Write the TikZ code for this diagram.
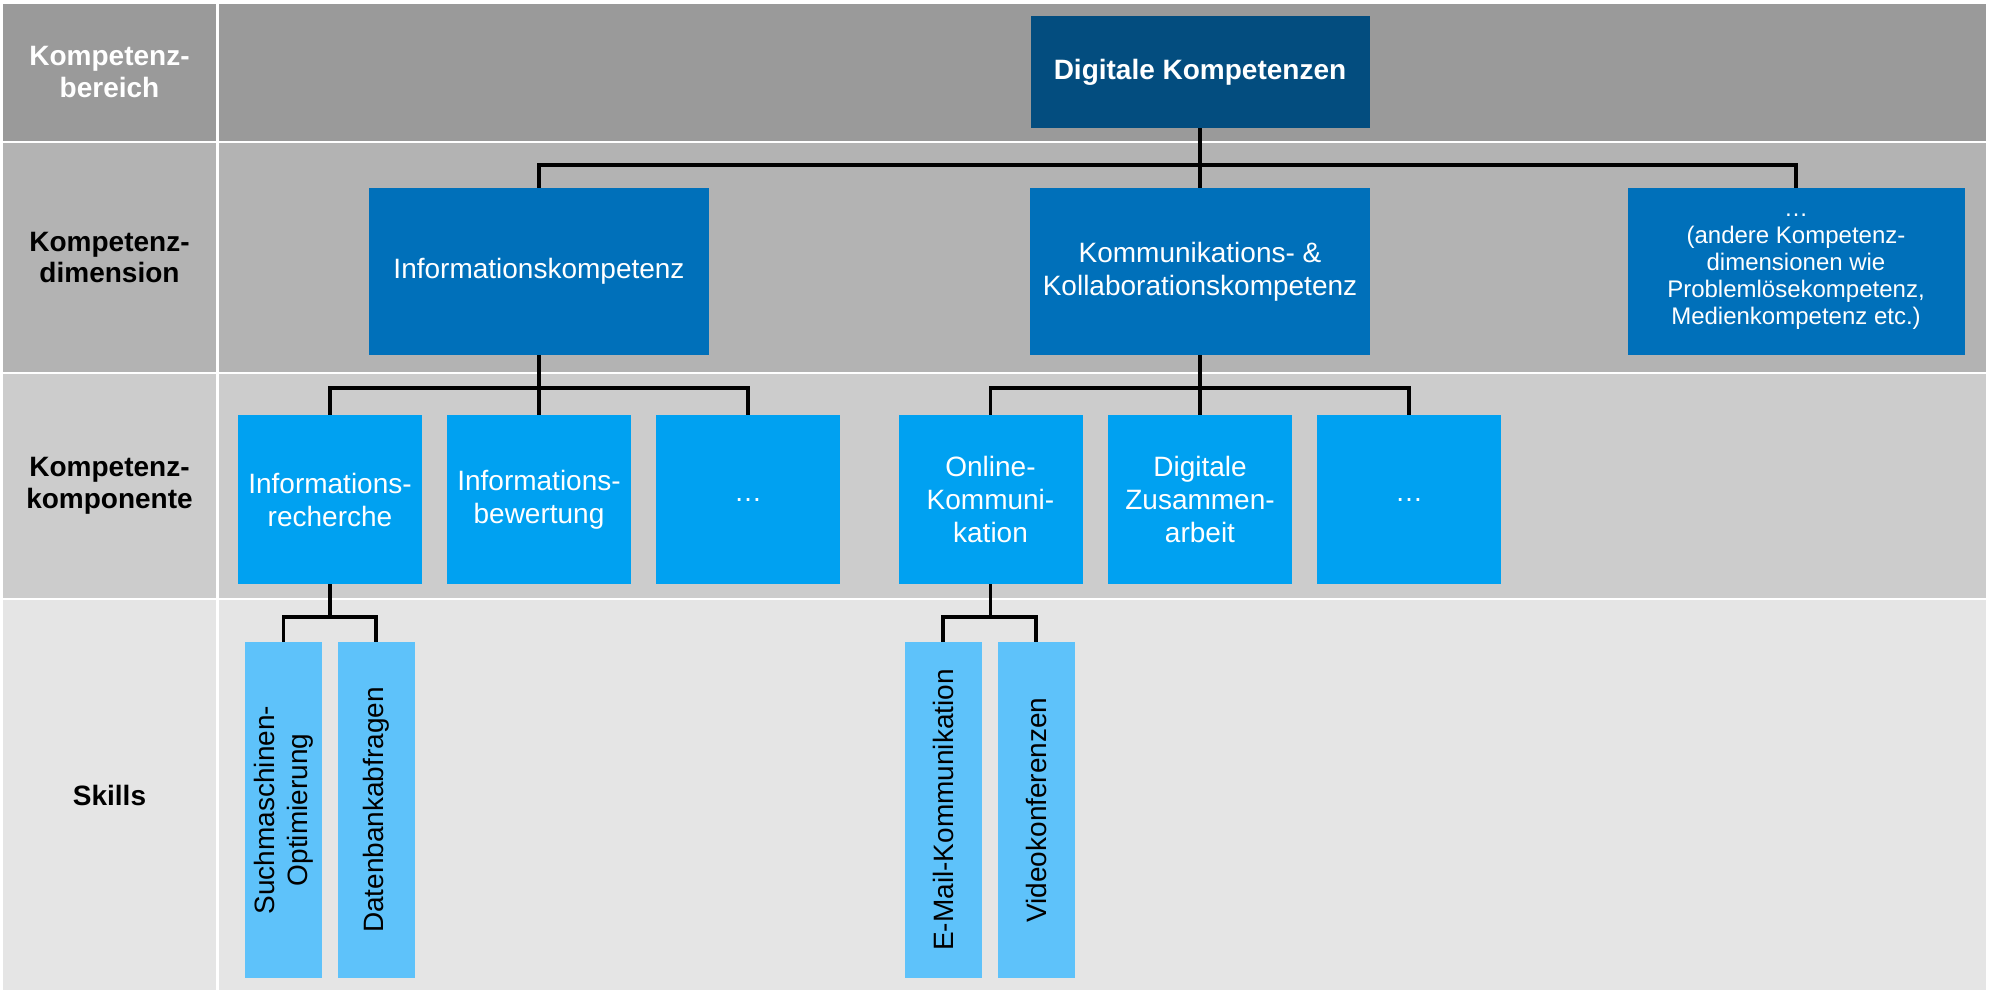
\documentclass[tikz,border=0pt]{standalone}
\usepackage{fontspec}
\setmainfont{Liberation Sans}
\usetikzlibrary{positioning}
\definecolor{rowA}{HTML}{9A9A9A}
\definecolor{rowB}{HTML}{B3B3B3}
\definecolor{rowC}{HTML}{CCCCCC}
\definecolor{rowD}{HTML}{E5E5E5}
\definecolor{rootblue}{HTML}{034D7F}
\definecolor{dimblue}{HTML}{0070BA}
\definecolor{compblue}{HTML}{00A1F1}
\definecolor{skillblue}{HTML}{5EC2FA}
\begin{document}
\begin{tikzpicture}[x=1pt,y=-1pt,font=\fontsize{28}{33}\selectfont,
    rowlabel/.style={align=center,font=\fontsize{28}{32}\selectfont\bfseries},
    box/.style={inner sep=0pt,align=center,text=white},
    rootbox/.style={box,fill=rootblue,minimum width=339,minimum height=112,font=\fontsize{28}{33}\selectfont\bfseries},
    dimbox/.style={box,fill=dimblue,minimum width=340,minimum height=167},
    compbox/.style={box,fill=compblue,minimum width=184,minimum height=169},
    skillbox/.style={box,fill=skillblue,rotate=90,minimum width=336,minimum height=77,text=black},
    conn/.style={line width=3.5pt}]
\path[use as bounding box,fill=white] (0,0) rectangle (1990,996);
% rows with their labels
\foreach \ya/\yb/\col/\tc/\txt [count=\i] in {4/141/rowA/white/{Kompetenz-\\bereich},
    143/372/rowB/black/{Kompetenz-\\dimension},
    374/598/rowC/black/{Kompetenz-\\komponente},
    600/990/rowD/black/Skills}{
    \fill[\col] (3,\ya) rectangle (216,\yb);
    \fill[\col] (219,\ya) rectangle (1986,\yb);
    \node[rowlabel,text=\tc] (lab\i) at (109.5,{(\ya+\yb)/2}) {\txt};
}
\coordinate (busA) at (0,165);
\coordinate (busB) at (0,388);
\coordinate (busC) at (0,617);
% boxes
\node[rootbox] (root) at (1200,72) {Digitale Kompetenzen};
\node[dimbox] (dim1) at (539,271.5) {Informationskompetenz};
\node[dimbox] (dim2) at (1200,271.5) {Kommunikations- \&\\Kollaborationskompetenz};
\node[dimbox,minimum width=337,font=\fontsize{24}{27}\selectfont] (dim3) at (1796,271.5)
    {…\\(andere Kompetenz-\\dimensionen wie\\Problemlösekompetenz,\\Medienkompetenz etc.)};
\node[compbox] (comp1) at (330,499.5) {Informations-\\recherche};
\node[compbox] (comp2) at (539,499.5) {Informations-\\bewertung};
\node[compbox] (comp3) at (748,499.5) {…};
\node[compbox] (comp4) at (990.5,499.5) {Online-\\Kommuni-\\kation};
\node[compbox] (comp5) at (1200,499.5) {Digitale\\Zusammen-\\arbeit};
\node[compbox] (comp6) at (1409,499.5) {…};
\node[skillbox] (skill1) at (283.5,810) {Suchmaschinen-\\Optimierung};
\node[skillbox] (skill2) at (376,810) {Datenbankabfragen};
\node[skillbox] (skill3) at (943,810) {E-Mail-Kommunikation};
\node[skillbox] (skill4) at (1036,810) {Videokonferenzen};
% connectors
\draw[conn] (root) -- (dim2);
\draw[conn] (dim1.north) |- (busA -| root) -| (dim3.north);
\draw[conn] (dim1) -- (comp2);
\draw[conn] (comp1.north) |- (busB -| dim1) -| (comp3.north);
\draw[conn] (dim2) -- (comp5);
\draw[conn] (comp4.north) |- (busB -| dim2) -| (comp6.north);
\draw[conn] (comp1.south) -- (comp1 |- busC);
\draw[conn] (skill1.east) |- (busC -| comp1) -| (skill2.east);
\draw[conn] (comp4.south) -- (comp4 |- busC);
\draw[conn] (skill3.east) |- (busC -| comp4) -| (skill4.east);
\end{tikzpicture}
\end{document}
